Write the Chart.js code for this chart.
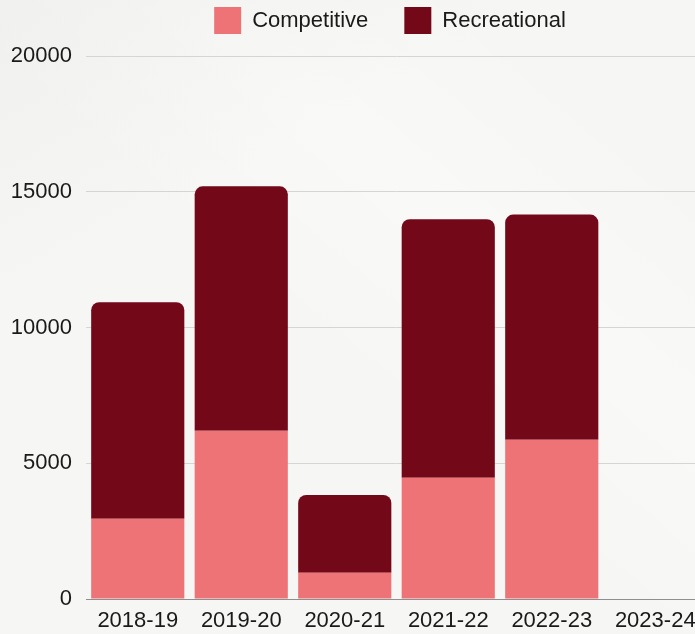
<!DOCTYPE html>
<html>
<head>
    <title>Competitive vs Recreational</title>
    <script src="https://cdn.jsdelivr.net/npm/chart.js"></script>
    <style>
        html, body {
            margin: 0;
            padding: 0;
            overflow: hidden;
        }
        body {
            width: 695px;
            height: 634px;
            background-color: #f6f6f4;
            background-image:
                linear-gradient(150deg, rgba(236, 236, 234, 0.6) 0%, rgba(236, 236, 234, 0) 30%),
                linear-gradient(40deg, rgba(255, 255, 255, 0) 45%, rgba(255, 255, 255, 0.35) 65%, rgba(255, 255, 255, 0) 85%);
        }
        .chart-box {
            width: 780px;
            height: 634px;
        }
    </style>
</head>
<body>
    <div class="chart-box">
        <canvas id="playersChart"></canvas>
    </div>

    <script>
        const seasons = ['2018-19', '2019-20', '2020-21', '2021-22', '2022-23', '2023-24'];
        const competitive = [2960, 6200, 965, 4470, 5870, null];
        const recreational = [7970, 9000, 2865, 9520, 8290, null];
        const yTicks = [0, 5000, 10000, 15000, 20000];

        Chart.defaults.font.family = '"Liberation Sans", Arial, sans-serif';
        Chart.defaults.font.size = 22;
        Chart.defaults.color = '#1a1a1a';

        // legend sits close to the top but with wide gaps between items
        const legendFit = {
            id: 'legendFit',
            beforeInit(chart) {
                const fit = chart.legend.fit;
                chart.legend.fit = function () {
                    fit.call(this);
                    this.height = 85;
                };
            }
        };

        const ctx = document.getElementById('playersChart').getContext('2d');

        const playersChart = new Chart(ctx, {
            type: 'bar',
            data: {
                labels: seasons,
                datasets: [{
                    label: 'Competitive',
                    data: competitive,
                    backgroundColor: '#ee7376',
                    borderWidth: 0,
                    barPercentage: 0.9,
                    categoryPercentage: 1.0
                }, {
                    label: 'Recreational',
                    data: recreational,
                    backgroundColor: '#730818',
                    borderWidth: 0,
                    borderRadius: { topLeft: 8, topRight: 8, bottomLeft: 0, bottomRight: 0 },
                    borderSkipped: false,
                    barPercentage: 0.9,
                    categoryPercentage: 1.0
                }]
            },
            options: {
                responsive: true,
                maintainAspectRatio: false,
                animation: false,
                layout: {
                    padding: { top: -29, left: 0, right: 0, bottom: 0 }
                },
                plugins: {
                    legend: {
                        position: 'top',
                        labels: {
                            boxWidth: 27,
                            boxHeight: 27,
                            padding: 36,
                            color: '#1a1a1a'
                        }
                    },
                    tooltip: { enabled: false }
                },
                scales: {
                    x: {
                        stacked: true,
                        grid: { display: false, drawTicks: false },
                        border: { display: true, color: '#8f8f8f', width: 1 },
                        ticks: { padding: 9, maxRotation: 0, autoSkip: false },
                        afterFit(scale) {
                            scale.height = 35;
                            scale.paddingRight = 73;
                        }
                    },
                    y: {
                        stacked: true,
                        min: 0,
                        max: 20000,
                        grid: { color: '#d5d5d3', drawTicks: false },
                        border: { display: false },
                        ticks: {
                            padding: 14,
                            stepSize: 5000,
                            callback: value => String(value)
                        },
                        afterBuildTicks(scale) {
                            scale.ticks = yTicks.map(v => ({ value: v }));
                        },
                        afterFit(scale) {
                            scale.width = 86;
                        }
                    }
                }
            },
            plugins: [legendFit]
        });
    </script>
</body>
</html>
